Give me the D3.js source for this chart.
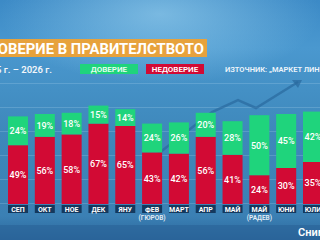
<!DOCTYPE html>
<html>
<head>
<meta charset="utf-8">
<script src="https://cdn.jsdelivr.net/npm/d3@7"></script>
<style>
  html, body { margin: 0; padding: 0; background: #3a84b8; }
  svg { display: block; font-family: Roboto, "Open Sans", sans-serif; }
</style>
</head>
<body>
<div id="chart"></div>
<script>
var months = ["СЕП", "ОКТ", "НОЕ", "ДЕК", "ЯНУ", "ФЕВ", "МАРТ", "АПР", "МАЙ", "МАЙ", "ЮНИ", "ЮЛИ"];
var notes = ["", "", "", "", "", "(ГЮРОВ)", "", "", "", "(РАДЕВ)", "", ""];
var trust = [24, 19, 18, 15, 14, 24, 26, 20, 28, 50, 45, 42];
var distrust = [49, 56, 58, 67, 65, 43, 42, 56, 41, 24, 30, 35];

var width = 320, height = 240;
var green = "#1fd47c", red = "#d20a34", navy = "#14395e";

var data = months.map(function (m, i) {
    return { id: i, month: m, note: notes[i], trust: trust[i], distrust: distrust[i] };
});

var svg = d3.select("#chart")
    .append("svg")
    .attr("width", width)
    .attr("height", height);

// background gradient
var defs = svg.append("defs");
var bg = defs.append("linearGradient").attr("id", "bg")
    .attr("x1", 0).attr("y1", 0).attr("x2", 0).attr("y2", 1);
bg.append("stop").attr("offset", "0").attr("stop-color", "#3c8ac6");
bg.append("stop").attr("offset", "0.2").attr("stop-color", "#4a98cf");
bg.append("stop").attr("offset", "0.55").attr("stop-color", "#3e88bb");
bg.append("stop").attr("offset", "0.9").attr("stop-color", "#3b80b4");
bg.append("stop").attr("offset", "1").attr("stop-color", "#2b679c");
var glow = defs.append("radialGradient").attr("id", "glow")
    .attr("cx", 0.5).attr("cy", 0.1).attr("r", 0.5);
glow.append("stop").attr("offset", "0").attr("stop-color", "#a8dcf5").attr("stop-opacity", 0.55);
glow.append("stop").attr("offset", "1").attr("stop-color", "#a8dcf5").attr("stop-opacity", 0);

svg.append("rect").attr("width", width).attr("height", height).attr("fill", "url(#bg)");
svg.append("rect").attr("width", width).attr("height", 140).attr("fill", "url(#glow)");

var x = d3.scaleBand()
    .domain(data.map(function (d) { return d.id; }))
    .range([8, 323])
    .paddingInner(0.254)
    .paddingOuter(0);

var y = d3.scaleLinear()
    .domain([0, 100])
    .range([204, 84]);

// faint grid behind the bars
var grid = svg.append("g").attr("opacity", 0.18);
grid.selectAll("line.h")
    .data([0, 20, 40, 60, 80, 100])
    .enter()
    .append("line")
    .attr("x1", 0).attr("x2", width)
    .attr("y1", function (d) { return y(d) - 0.5; })
    .attr("y2", function (d) { return y(d) - 0.5; })
    .attr("stroke", "#d8f0ff");

// decorative trend arrow in the backdrop
svg.append("path")
    .attr("d", "M150,160 L212,112 L238,100 L256,108 L298,82")
    .attr("fill", "none")
    .attr("stroke", "#2a6a9e")
    .attr("stroke-width", 2.5)
    .attr("opacity", 0.7);
svg.append("path")
    .attr("d", "M292,80 L302,80 L298,88 Z")
    .attr("fill", "#2a6a9e")
    .attr("opacity", 0.7);

// bottom strip
svg.append("rect").attr("x", 0).attr("y", 225).attr("width", width).attr("height", 15)
    .attr("fill", "#2a6397").attr("opacity", 0.6);

// title bar
svg.append("rect").attr("x", 0).attr("y", 39).attr("width", 207).attr("height", 18).attr("fill", "#e7a23c");
svg.append("text")
    .attr("x", 204).attr("y", 53.5)
    .attr("text-anchor", "end")
    .attr("textLength", 217)
    .attr("lengthAdjust", "spacingAndGlyphs")
    .attr("fill", "#fff")
    .attr("font-size", 14)
    .attr("font-weight", 700)
    .text("ДОВЕРИЕ В ПРАВИТЕЛСТВОТО");

svg.append("text")
    .attr("x", 52).attr("y", 72.5)
    .attr("text-anchor", "end")
    .attr("fill", "#f2f6fa")
    .attr("font-size", 9.5)
    .attr("font-weight", 600)
    .text("2025 г. – 2026 г.");

// legend
var legend = [
    { label: "ДОВЕРИЕ", color: green, x: 80, w: 58, text: "#e8fff2" },
    { label: "НЕДОВЕРИЕ", color: red, x: 146, w: 58, text: "#ffffff" }
];
var lg = svg.selectAll("g.legend")
    .data(legend)
    .enter()
    .append("g")
    .attr("class", "legend");
lg.append("rect")
    .attr("x", function (d) { return d.x; })
    .attr("y", 64)
    .attr("width", function (d) { return d.w; })
    .attr("height", 10)
    .attr("fill", function (d) { return d.color; });
lg.append("text")
    .attr("x", function (d) { return d.x + d.w / 2; })
    .attr("y", 72)
    .attr("text-anchor", "middle")
    .attr("fill", function (d) { return d.text; })
    .attr("font-size", 8)
    .attr("font-weight", 600)
    .text(function (d) { return d.label; });

svg.append("text")
    .attr("x", 225).attr("y", 72)
    .attr("fill", "#eef5fb")
    .attr("font-size", 7.5)
    .attr("font-weight", 600)
    .text("ИЗТОЧНИК: „МАРКЕТ ЛИНКС“");

// stacked bars
var bars = svg.selectAll("g.bar")
    .data(data)
    .enter()
    .append("g")
    .attr("class", "bar");

bars.append("rect")
    .attr("x", function (d) { return x(d.id); })
    .attr("y", function (d) { return y(d.distrust); })
    .attr("width", x.bandwidth())
    .attr("height", function (d) { return y(0) - y(d.distrust); })
    .attr("fill", red);

bars.append("rect")
    .attr("x", function (d) { return x(d.id); })
    .attr("y", function (d) { return y(d.distrust + d.trust); })
    .attr("width", x.bandwidth())
    .attr("height", function (d) { return y(d.distrust) - y(d.distrust + d.trust); })
    .attr("fill", green);

bars.append("text")
    .attr("x", function (d) { return x(d.id) + x.bandwidth() / 2; })
    .attr("y", function (d) { return (y(0) + y(d.distrust)) / 2 + 3.3; })
    .attr("text-anchor", "middle")
    .attr("fill", "#fff")
    .attr("font-size", 9)
    .attr("font-weight", 500)
    .text(function (d) { return d.distrust + "%"; });

bars.append("text")
    .attr("x", function (d) { return x(d.id) + x.bandwidth() / 2; })
    .attr("y", function (d) { return (y(d.distrust) + y(d.distrust + d.trust)) / 2 + 3.3; })
    .attr("text-anchor", "middle")
    .attr("fill", "#fff")
    .attr("font-size", 9)
    .attr("font-weight", 500)
    .text(function (d) { return d.trust + "%"; });

// month labels
bars.append("rect")
    .attr("x", function (d) { return x(d.id); })
    .attr("y", 205)
    .attr("width", x.bandwidth())
    .attr("height", 8)
    .attr("fill", navy);

bars.append("text")
    .attr("x", function (d) { return x(d.id) + x.bandwidth() / 2; })
    .attr("y", 211.7)
    .attr("text-anchor", "middle")
    .attr("fill", "#fff")
    .attr("font-size", 7)
    .attr("font-weight", 700)
    .text(function (d) { return d.month; });

bars.append("text")
    .attr("x", function (d) { return x(d.id) + x.bandwidth() / 2; })
    .attr("y", 220)
    .attr("text-anchor", "middle")
    .attr("fill", "#e6eef6")
    .attr("font-size", 6.5)
    .attr("font-weight", 600)
    .text(function (d) { return d.note; });

// corner caption, cut off by the frame
svg.append("text")
    .attr("x", 298).attr("y", 236)
    .attr("fill", "#fff")
    .attr("font-size", 11)
    .attr("font-weight", 600)
    .text("Снимка");
</script>
</body>
</html>
